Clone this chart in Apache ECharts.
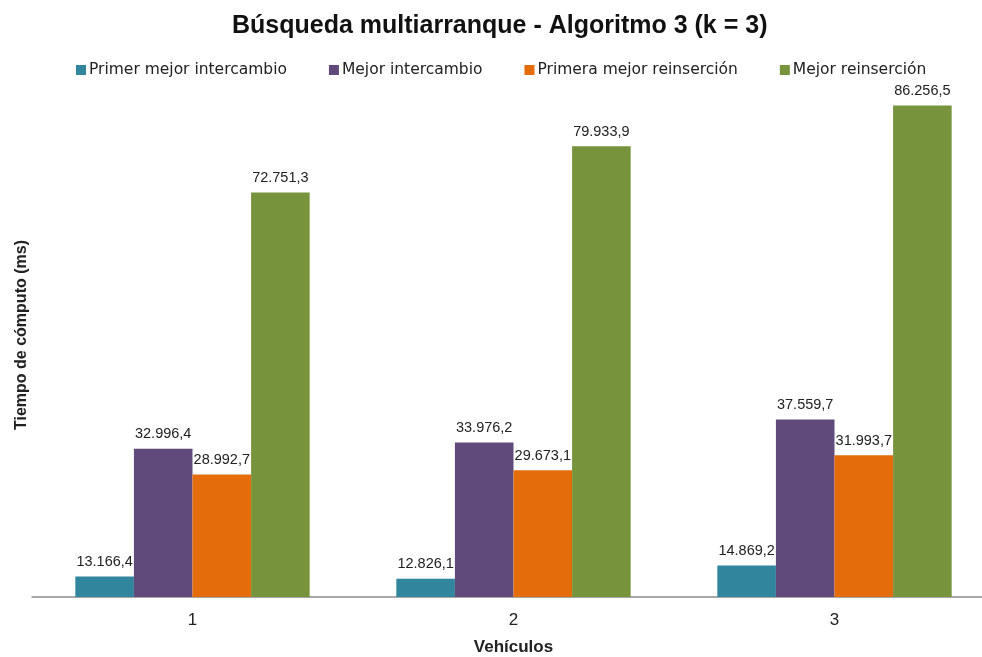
<!DOCTYPE html>
<html>
<head>
<meta charset="utf-8">
<script src="https://cdn.jsdelivr.net/npm/echarts@6/dist/echarts.min.js"></script>
<style>
  html, body { margin: 0; padding: 0; background: #fff; }
  #chart { width: 982px; height: 657px; }
</style>
</head>
<body>
<div id="chart"></div>
<script>
var vehiculos = ["1", "2", "3"];
var primerMejorIntercambio = [13166.4, 12826.1, 14869.2];
var mejorIntercambio = [32996.4, 33976.2, 37559.7];
var primeraMejorReinsercion = [28992.7, 29673.1, 31993.7];
var mejorReinsercion = [72751.3, 79933.9, 86256.5];
var nombres = ["Primer mejor intercambio", "Mejor intercambio", "Primera mejor reinserción", "Mejor reinserción"];
var colores = ["#31859C", "#604A7B", "#E46C0A", "#77933C"];

// formato español: 12.345,6
function fmt(v) {
  var parts = v.toFixed(1).split(".");
  return parts[0].replace(/\B(?=(\d{3})+(?!\d))/g, ".") + "," + parts[1];
}

var myChart = echarts.init(document.getElementById("chart"));

function serie(i, data) {
  return {
    name: nombres[i],
    type: "bar",
    data: data,
    barGap: 0,
    barCategoryGap: "27%",
    itemStyle: { color: colores[i] },
    label: {
      show: true,
      position: "top",
      distance: 7,
      color: "#222",
      fontFamily: "Liberation Sans",
      fontSize: 14.5,
      formatter: function (p) { return fmt(p.value); }
    }
  };
}

var option = {
  animation: false,
  title: {
    text: "Búsqueda multiarranque - Algoritmo 3 (k = 3)",
    left: 227,
    top: 9,
    textStyle: {
      fontFamily: "Liberation Sans",
      fontWeight: "bold",
      fontSize: 25,
      color: "#111"
    }
  },
  legend: {
    top: 57,
    left: 71,
    itemWidth: 10,
    itemHeight: 10,
    itemGap: 42,
    icon: "rect",
    textStyle: {
      fontFamily: "DejaVu Sans",
      fontSize: 15.5,
      color: "#222",
      padding: [0, 0, 0, -2]
    },
    data: nombres
  },
  grid: {
    left: 32,
    width: 963,
    top: 17,
    bottom: 60,
    outerBoundsMode: "none",
    containLabel: false
  },
  xAxis: {
    type: "category",
    data: vehiculos,
    name: "Vehículos",
    nameLocation: "middle",
    nameGap: 42,
    nameTextStyle: {
      fontFamily: "Liberation Sans",
      fontWeight: "bold",
      fontSize: 17,
      color: "#222"
    },
    axisLine: { lineStyle: { color: "#8c8c8c", width: 1.5 } },
    axisTick: { show: false },
    axisLabel: {
      fontFamily: "Liberation Sans",
      fontSize: 17,
      color: "#222",
      margin: 15
    }
  },
  yAxis: {
    type: "value",
    min: 10000,
    max: 100000,
    name: "Tiempo de cómputo (ms)",
    nameLocation: "middle",
    nameGap: 2,
    nameTextStyle: {
      fontFamily: "Liberation Sans",
      fontWeight: "bold",
      fontSize: 16,
      color: "#222",
      padding: [0, 0, 0, -56]
    },
    axisLine: { show: false },
    axisTick: { show: false },
    axisLabel: { show: false },
    splitLine: { show: false }
  },
  series: [
    serie(0, primerMejorIntercambio),
    serie(1, mejorIntercambio),
    serie(2, primeraMejorReinsercion),
    serie(3, mejorReinsercion)
  ]
};

myChart.setOption(option);
</script>
</body>
</html>
